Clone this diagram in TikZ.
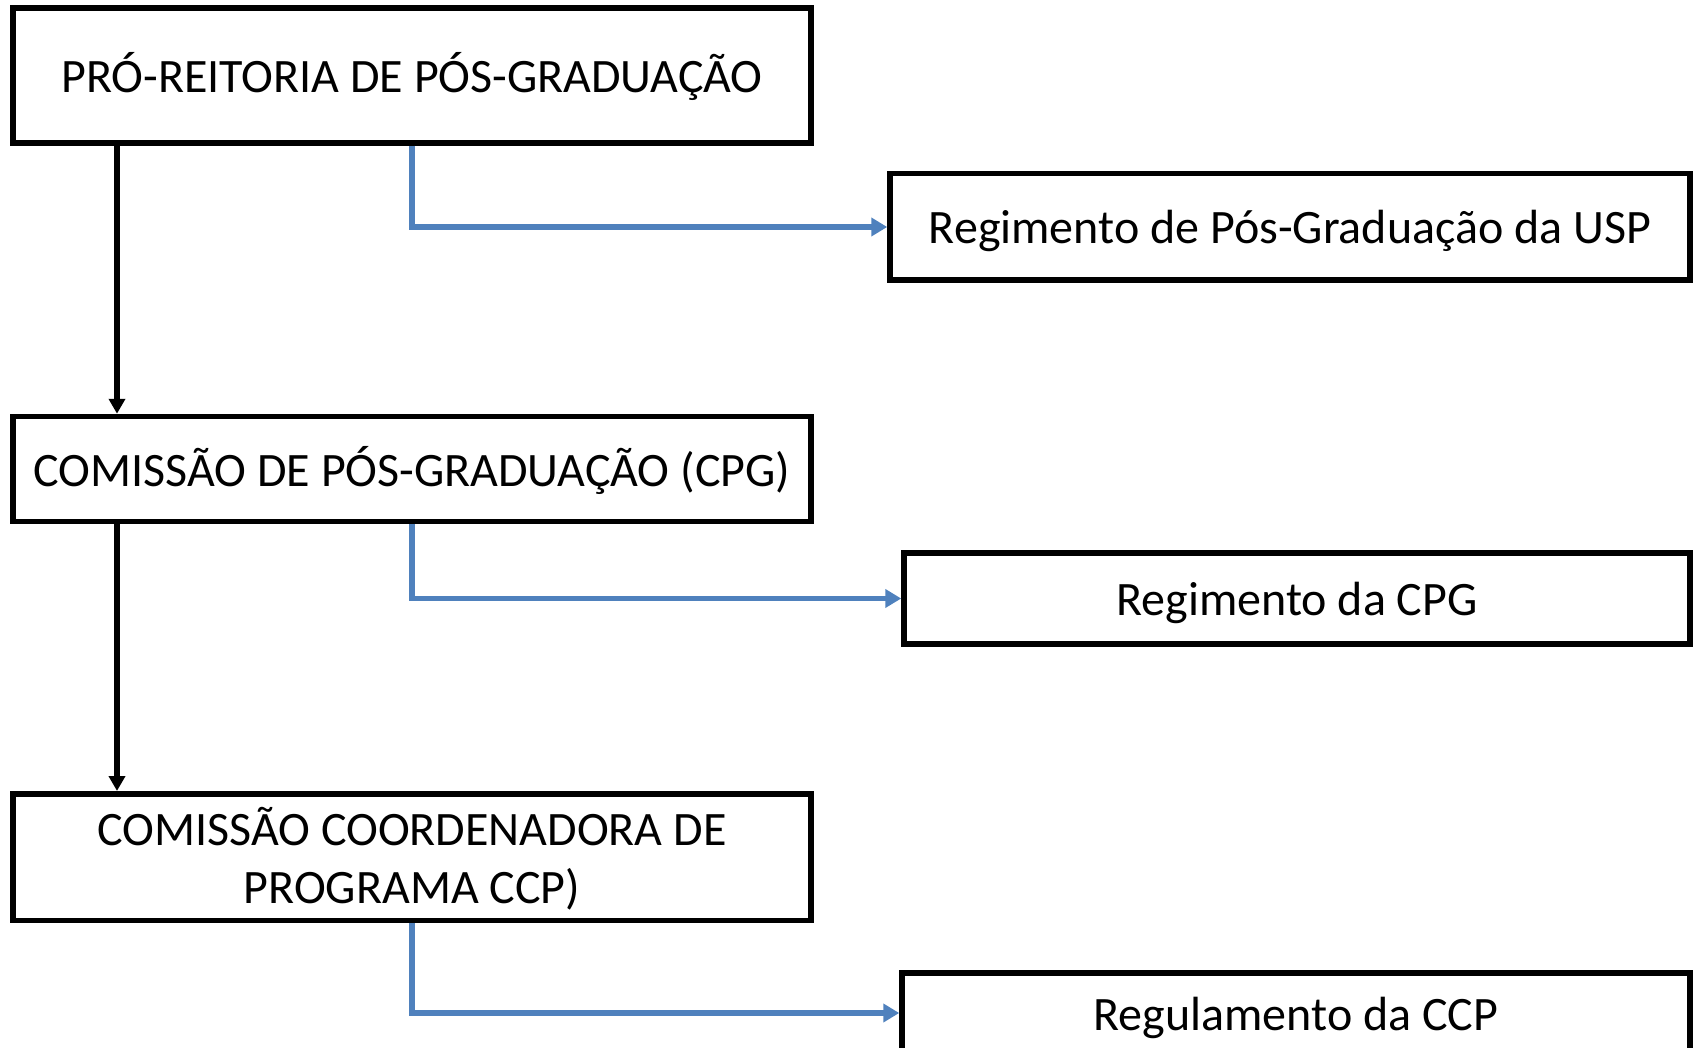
\documentclass[tikz,border=0pt]{standalone}
\usepackage{fontspec}
\setmainfont{Carlito}
\usetikzlibrary{arrows.meta,calc}
\definecolor{linkblue}{HTML}{4F81BD}
\begin{document}
\begin{tikzpicture}[x=1pt,y=-1pt,
  box/.style={draw=black, line width=5.5pt, fill=white, inner sep=0pt, align=center,
     font=\fontsize{48}{58}\selectfont, text height=34pt, text depth=0pt},
  flow/.style={draw=black, line width=5.3pt, -{Triangle[length=15pt,width=16pt]}},
  link/.style={draw=linkblue, line width=5.8pt, -{Triangle[length=16pt,width=18pt]}}]
\useasboundingbox (0,0) rectangle (1699,1048);
\clip (0,0) rectangle (1699,1048);
\node[box, minimum width=798pt, minimum height=135pt] (b1) at (412,75.5) {PRÓ-REITORIA DE PÓS-GRADUAÇÃO};
\node[box, minimum width=798pt, minimum height=105pt] (b2) at (412,469) {COMISSÃO DE PÓS-GRADUAÇÃO (CPG)};
\node[box, minimum width=798pt, minimum height=126.5pt, text height=92pt] (b3) at (412,857) {COMISSÃO COORDENADORA DE\\PROGRAMA CCP)};
\node[box, minimum width=800pt, minimum height=106.5pt] (r1) at (1290,227) {Regimento de Pós-Graduação da USP};
\node[box, minimum width=786pt, minimum height=91pt] (r2) at (1297,598.5) {Regimento da CPG};
\node[box, minimum width=788pt, minimum height=80pt] (r3) at (1296,1013) {Regulamento da CCP};
\coordinate (ax) at (117,0);
\draw[flow] (b1.south -| ax) -- (b2.north -| ax);
\draw[flow] (b2.south -| ax) -- (b3.north -| ax);
\draw[link] (b1.south) |- (r1.west);
\draw[link] (b2.south) |- (r2.west);
\draw[link] (b3.south) |- (r3.west);
\end{tikzpicture}
\end{document}
